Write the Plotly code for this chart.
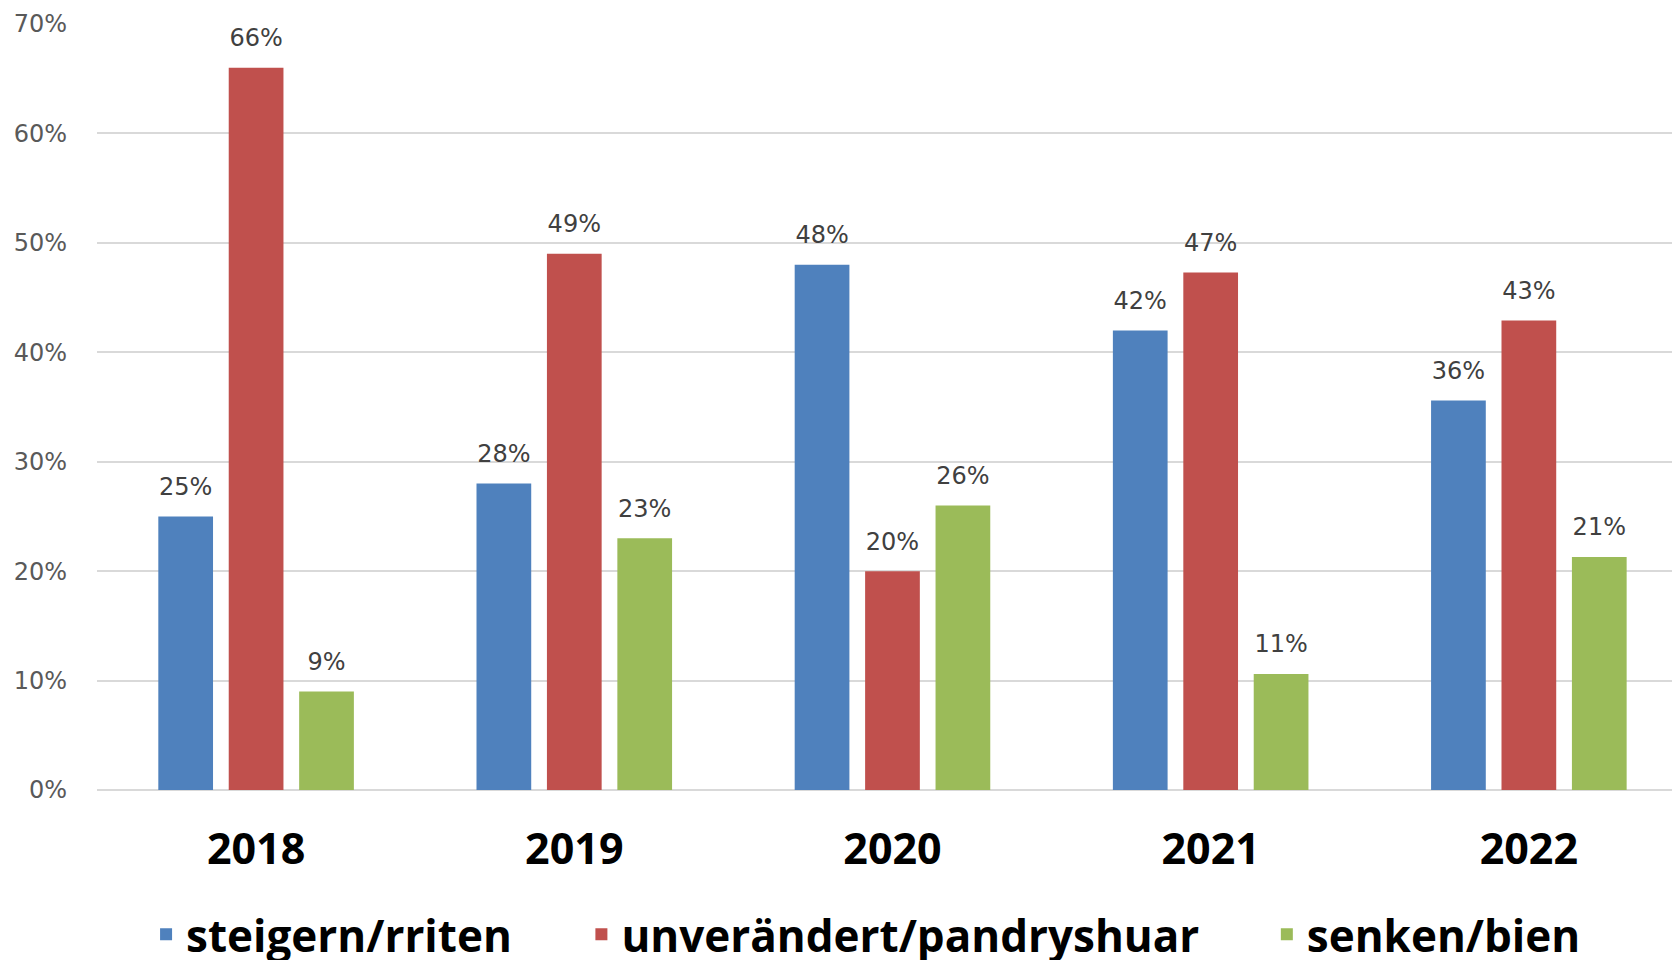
import plotly.graph_objects as go

years = ["2018", "2019", "2020", "2021", "2022"]
series_names = ["steigern/rriten", "unverändert/pandryshuar", "senken/bien"]
steigern = [0.25, 0.28, 0.48, 0.42, 0.356]
unveraendert = [0.66, 0.49, 0.20, 0.473, 0.429]
senken = [0.09, 0.23, 0.26, 0.106, 0.213]
colors = ["#4F81BD", "#C0504D", "#9BBB59"]
y_ticks = [0, 0.1, 0.2, 0.3, 0.4, 0.5, 0.6, 0.7]

legend_ids = ["legend", "legend2", "legend3"]
legend_x = [0.031, 0.306, 0.739]

fig = go.Figure()
for name, vals, col, lg in zip(series_names, [steigern, unveraendert, senken], colors, legend_ids):
    fig.add_trace(go.Bar(
        x=years, y=vals, name=name, legend=lg,
        marker=dict(color=col, line=dict(width=0)),
        texttemplate="<span style='font-size:24px'>%{y:.0%}</span><br> ",
        textposition="outside",
        constraintext="none",
        textfont=dict(family="DejaVu Sans", size=12, color="#404040"),
        cliponaxis=False,
    ))

legend_common = dict(
    orientation="h", y=-0.189, yanchor="middle", xanchor="left",
    font=dict(family="Open Sans", size=44, color="#000000", weight="bold"),
    itemclick=False, itemdoubleclick=False, bgcolor="rgba(0,0,0,0)",
)

fig.update_layout(
    width=1680, height=960,
    barmode="group", bargap=0.336, bargroupgap=0.223,
    plot_bgcolor="white", paper_bgcolor="white",
    margin=dict(l=89, r=8, t=16, b=178, autoexpand=False),
    font=dict(family="DejaVu Sans"),
    xaxis=dict(
        range=[-0.5, 4.475],
        showgrid=False, showline=False, ticks="",
        tickfont=dict(family="Open Sans", size=43, color="#000000", weight="bold"),
        ticklabelstandoff=30,
        automargin=False,
    ),
    yaxis=dict(
        range=[0, 0.7], tickvals=y_ticks, tickformat=".0%",
        showgrid=True, gridcolor="#D9D9D9", gridwidth=1.5,
        zeroline=True, zerolinecolor="#D9D9D9", zerolinewidth=2,
        showline=False, ticks="",
        tickfont=dict(family="DejaVu Sans", size=24, color="#595959"),
        ticklabelstandoff=29,
        automargin=False,
    ),
    legend=dict(x=legend_x[0], **legend_common),
    legend2=dict(x=legend_x[1], **legend_common),
    legend3=dict(x=legend_x[2], **legend_common),
    showlegend=True,
)

fig.write_html("out.html")
